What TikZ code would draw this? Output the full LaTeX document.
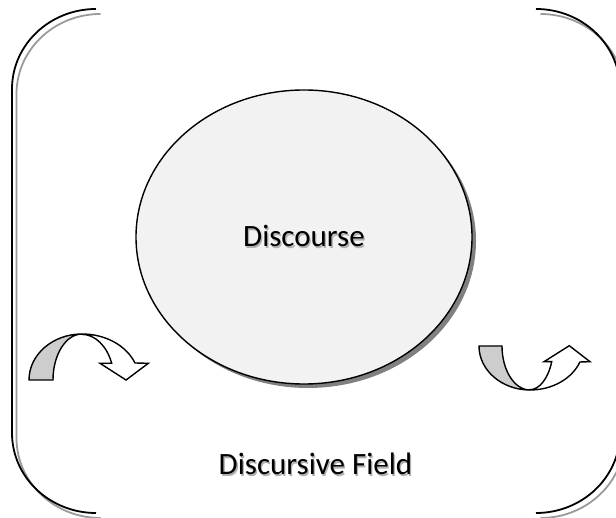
\documentclass[tikz,border=0pt]{standalone}
\usepackage{fontspec}
\setmainfont{Carlito}
\definecolor{shadegray}{HTML}{9A9A9A}
\definecolor{discfill}{HTML}{F2F2F2}
\definecolor{discshadow}{HTML}{808080}
\definecolor{bandgray}{HTML}{CDCDCD}
\definecolor{textshade}{HTML}{B0B0B0}
\begin{document}
\begin{tikzpicture}[x=1pt,y=-1pt,
  bracketline/.style={line width=1.8pt, draw=black},
  bracketshade/.style={line width=1.8pt, draw=shadegray},
  arrowline/.style={line width=1.4pt, draw=black, line join=miter},
  lbl/.style={font=\fontsize{31}{37}\selectfont, inner sep=0pt, anchor=base},
  lblshade/.style={lbl, text=textshade}]
\useasboundingbox (0,0) rectangle (616,518);

% left bracket: shadow, then line
\draw[bracketshade, shift={(4.5,5)}] (96,9) arc[start angle=-90, end angle=-180, x radius=84, y radius=80]
  -- (12,433) arc[start angle=180, end angle=90, x radius=84, y radius=80];
\draw[bracketline] (96,9) arc[start angle=-90, end angle=-180, x radius=84, y radius=80]
  -- (12,433) arc[start angle=180, end angle=90, x radius=84, y radius=80];

% right bracket: shadow, then line
\draw[bracketshade, shift={(4.5,5)}] (536,9) arc[start angle=-90, end angle=0, x radius=84, y radius=80]
  -- (620,433) arc[start angle=0, end angle=90, x radius=84, y radius=80];
\draw[bracketline] (536,9) arc[start angle=-90, end angle=0, x radius=84, y radius=80]
  -- (620,433) arc[start angle=0, end angle=90, x radius=84, y radius=80];

% the discourse disc with its drop shadow
\fill[discshadow] (308,241) ellipse[x radius=168, y radius=147];
\filldraw[fill=discfill, draw=black, line width=1.4pt] (304,237) ellipse[x radius=168, y radius=147];

% curved arrow on the left (turning down)
\filldraw[arrowline, fill=bandgray] (29,380)
  arc[start angle=180, end angle=270, x radius=53, y radius=46]
  arc[start angle=270, end angle=180, x radius=29, y radius=46] -- cycle;
\filldraw[arrowline, fill=white] (82,334)
  arc[start angle=270, end angle=338.3, x radius=57, y radius=46]
  -- (148.3,363.3) -- (126,380) -- (100,363.3) -- (111.7,363.3)
  arc[start angle=338.3, end angle=270, x radius=32.3, y radius=46] -- cycle;

% curved arrow on the right (turning up)
\filldraw[arrowline, fill=bandgray] (479,346)
  arc[start angle=180, end angle=90, x radius=51, y radius=44]
  arc[start angle=90, end angle=180, x radius=28, y radius=44] -- cycle;
\filldraw[arrowline, fill=white] (530,390)
  arc[start angle=90, end angle=21.3, x radius=53.6, y radius=44]
  -- (590,361.7) -- (569.3,345.7) -- (544,361.7) -- (551.7,361.7)
  arc[start angle=21.3, end angle=90, x radius=23.6, y radius=44] -- cycle;

% labels with a soft shadow
\node[lblshade] (discshade) at (305.3,248.3) {Discourse};
\node[lbl] (disc) at (304,247) {Discourse};
\node[lblshade] (fieldshade) at (316.8,476.3) {Discursive Field};
\node[lbl] (field) at (315.5,475) {Discursive Field};
\end{tikzpicture}
\end{document}
